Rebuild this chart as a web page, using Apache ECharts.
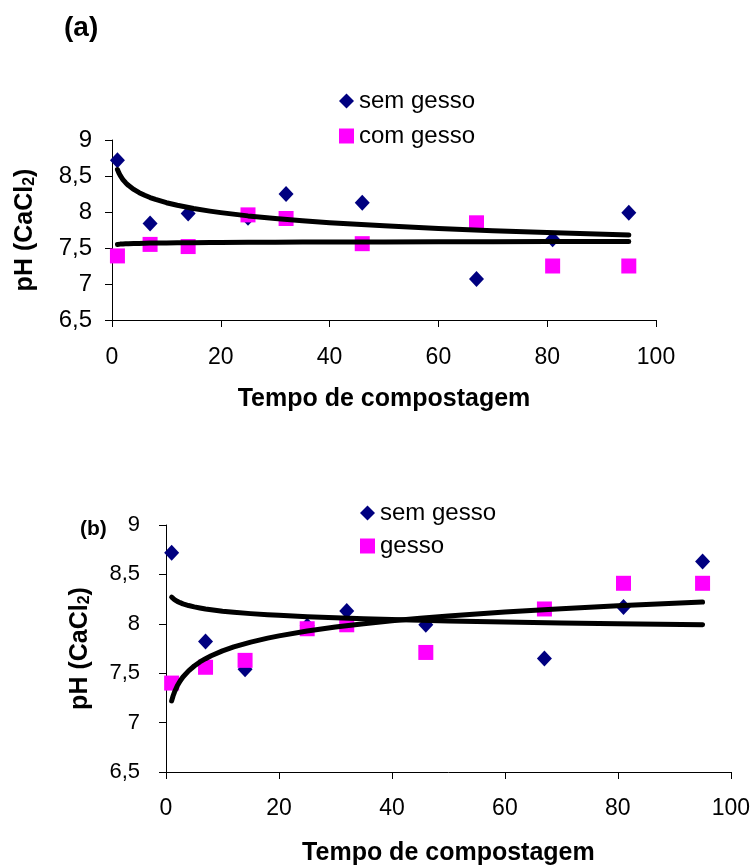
<!DOCTYPE html>
<html>
<head>
<meta charset="utf-8">
<script src="https://cdn.jsdelivr.net/npm/echarts@6/dist/echarts.min.js"></script>
<style>
  html, body { margin: 0; padding: 0; background: #fff; }
  #main { width: 753px; height: 868px; }
</style>
</head>
<body>
<div id="main"></div>
<script>
var dias = [1, 7, 14, 25, 32, 46, 67, 81, 95];

// (a)
var semGessoA = [8.72, 7.84, 7.98, 7.92, 8.25, 8.13, 7.07, 7.62, 7.99];
var comGessoA = [7.39, 7.55, 7.52, 7.96, 7.91, 7.56, 7.85, 7.25, 7.25];
// (b)
var semGessoB = [8.72, 7.82, 7.54, 7.98, 8.13, 7.99, 7.65, 8.17, 8.63];
var gessoB = [7.40, 7.56, 7.63, 7.95, 7.99, 7.71, 8.15, 8.41, 8.41];

// linhas de tendencia
var tendX = [1, 1.25, 1.5, 2, 2.5, 3, 4, 5, 6, 7, 8, 10, 12, 15, 18, 20, 25, 30, 35, 40, 45, 50, 60, 70, 80, 95];
var tendSemA = [8.590, 8.545, 8.509, 8.451, 8.407, 8.370, 8.313, 8.268, 8.232, 8.201, 8.174, 8.129, 8.093,
  8.048, 8.012, 7.991, 7.946, 7.910, 7.879, 7.852, 7.829, 7.808, 7.771, 7.740, 7.714, 7.679];
var tendComA = [7.550, 7.552, 7.554, 7.556, 7.558, 7.560, 7.562, 7.564, 7.566, 7.568, 7.569, 7.571, 7.572,
  7.574, 7.576, 7.577, 7.579, 7.581, 7.582, 7.583, 7.584, 7.585, 7.587, 7.588, 7.589, 7.591];
var tendSemB = [8.270, 8.256, 8.245, 8.227, 8.214, 8.202, 8.185, 8.171, 8.160, 8.150, 8.142, 8.128, 8.117,
  8.103, 8.092, 8.086, 8.072, 8.061, 8.051, 8.043, 8.036, 8.029, 8.018, 8.009, 8.001, 7.990];
var tendGessoB = [7.220, 7.269, 7.309, 7.372, 7.421, 7.461, 7.524, 7.573, 7.614, 7.647, 7.677, 7.726, 7.766,
  7.815, 7.855, 7.878, 7.927, 7.967, 8.001, 8.030, 8.056, 8.079, 8.119, 8.153, 8.182, 8.220];

function pares(xs, ys) {
  var out = [];
  for (var i = 0; i < xs.length; i++) out.push([xs[i], ys[i]]);
  return out;
}

var fonte = 'Liberation Sans, Arial, sans-serif';
var myChart = echarts.init(document.getElementById('main'));

function eixoX(idx, gap, margem) {
  return {
    gridIndex: idx, type: 'value', min: 0, max: 100, interval: 20,
    name: 'Tempo de compostagem', nameLocation: 'middle', nameGap: gap,
    nameTextStyle: { fontSize: 25, fontWeight: 'bold', color: '#000', fontFamily: fonte },
    axisLine: { lineStyle: { color: '#000', width: 1 } },
    axisTick: { show: true, length: 7, lineStyle: { color: '#000' } },
    axisLabel: { fontSize: 23, color: '#000', margin: margem, fontFamily: fonte },
    splitLine: { show: false }
  };
}
function eixoY(idx, gap, margem, tam) {
  return {
    gridIndex: idx, type: 'value', min: 6.5, max: 9, interval: 0.5,
    name: '{a|pH (CaCl}{s|2}{a|)}', nameLocation: 'middle', nameGap: gap, nameRotate: 90,
    nameTextStyle: {
      rich: {
        a: { fontSize: 25, fontWeight: 'bold', color: '#000', fontFamily: fonte },
        s: { fontSize: 16, fontWeight: 'bold', color: '#000', fontFamily: fonte, verticalAlign: 'bottom', padding: [10, 0, 0, 0] }
      }
    },
    axisLine: { show: true, lineStyle: { color: '#000', width: 1 } },
    axisTick: { show: true, length: 7, lineStyle: { color: '#000' } },
    axisLabel: {
      fontSize: tam, color: '#000', margin: margem, fontFamily: fonte,
      formatter: function (v) { return String(v).replace('.', ','); }
    },
    splitLine: { show: false }
  };
}
function pontos(nome, idx, ys, simbolo, cor) {
  return {
    name: nome, type: 'scatter', xAxisIndex: idx, yAxisIndex: idx,
    symbol: simbolo, symbolSize: simbolo === 'diamond' ? [15, 16] : 15,
    itemStyle: { color: cor, opacity: 1 },
    data: pares(dias, ys), z: 2
  };
}
function tendencia(nome, idx, ys) {
  return {
    name: nome, type: 'line', xAxisIndex: idx, yAxisIndex: idx,
    showSymbol: false, smooth: false, silent: true,
    lineStyle: { color: '#000', width: 5, cap: 'round', join: 'round' },
    data: pares(tendX, ys), z: 5
  };
}

var option = {
  animation: false,
  textStyle: { fontFamily: fonte, color: '#000' },
  title: [
    { text: '(a)', left: 59, top: 9, textStyle: { fontSize: 28, fontWeight: 'bold', color: '#000', fontFamily: fonte } },
    { text: '(b)', left: 75, top: 514, textStyle: { fontSize: 21, fontWeight: 'bold', color: '#000', fontFamily: fonte } }
  ],
  legend: [
    {
      orient: 'vertical', left: 334, top: 84, itemWidth: 15, itemHeight: 15, itemGap: 11,
      textStyle: { fontSize: 24, color: '#000', fontFamily: fonte },
      data: [{ name: 'sem gesso', icon: 'diamond' }, { name: 'com gesso', icon: 'rect' }]
    },
    {
      orient: 'vertical', left: 355, top: 496, itemWidth: 15, itemHeight: 15, itemGap: 9,
      textStyle: { fontSize: 24, color: '#000', fontFamily: fonte },
      data: [{ name: 'sem gesso', icon: 'diamond' }, { name: 'gesso', icon: 'rect' }]
    }
  ],
  grid: [
    { left: 112, top: 140, width: 544, height: 180 },
    { left: 166, top: 525, width: 566, height: 247 }
  ],
  xAxis: [eixoX(0, 67, 26), eixoX(1, 69, 25)],
  yAxis: [eixoY(0, 74, 20, 24), eixoY(1, 73, 26, 22)],
  series: [
    pontos('sem gesso', 0, semGessoA, 'diamond', '#000080'),
    pontos('com gesso', 0, comGessoA, 'rect', '#ff00ff'),
    tendencia('tend sem a', 0, tendSemA),
    tendencia('tend com a', 0, tendComA),
    pontos('sem gesso', 1, semGessoB, 'diamond', '#000080'),
    pontos('gesso', 1, gessoB, 'rect', '#ff00ff'),
    tendencia('tend sem b', 1, tendSemB),
    tendencia('tend gesso b', 1, tendGessoB)
  ]
};
myChart.setOption(option);
</script>
</body>
</html>
